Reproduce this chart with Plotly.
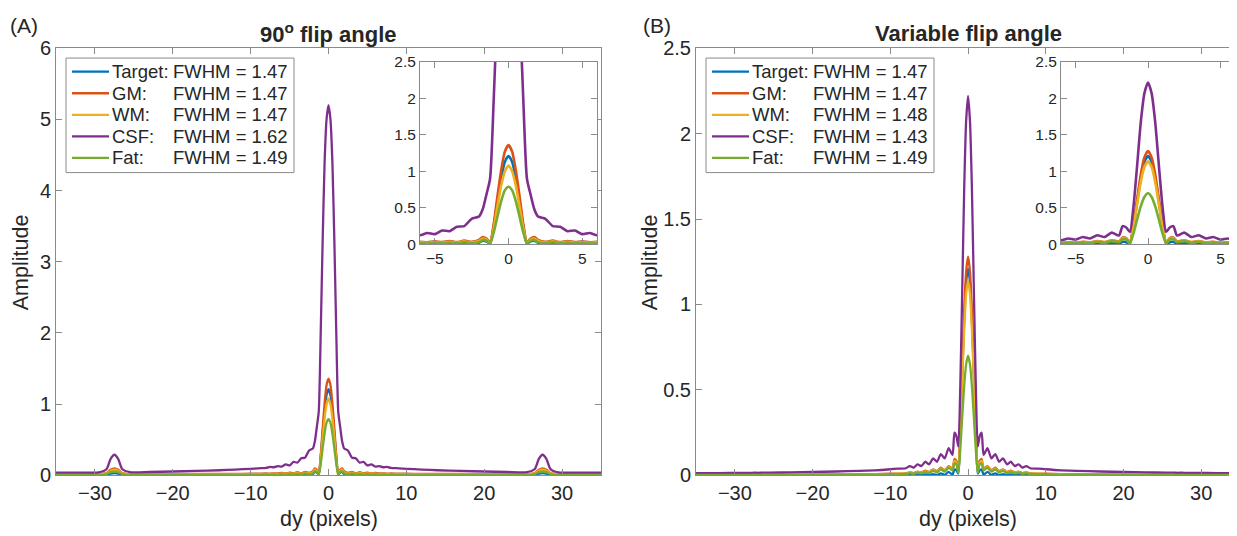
import plotly.graph_objects as go

# page geometry (measured from the rendered page)
OX = 8                 # horizontal offset of the figure in the page
TY, PH = 17.8, 516.0   # top and height of the paper area as it appears in the page
FW, FH = 1229, 536

# ---------------- data ----------------
dy = [-35, -32, -29.5, -28.5, -28, -27.5, -27, -26.5, -25.5, -23, -20, -17, -14, -12, -10, -9, -8,
      -7.5, -7, -6.5, -6, -5.5, -5, -4.5, -4, -3.5, -3, -2.5, -2, -1.75, -1.5, -1.25, -1, -0.75,
      -0.5, -0.25, 0, 0.25, 0.5, 0.75, 1, 1.25, 1.5, 1.75, 2, 2.5, 3, 3.5, 4, 4.5, 5, 5.5, 6,
      6.5, 7, 7.5, 8, 9, 10, 12, 14, 17, 20, 23, 25.5, 26.5, 27, 27.5, 28, 28.5, 29.5, 32, 35]

# (A) 90 degree flip angle
a_target = [0.002, 0.002, 0.002, 0.008, 0.025, 0.032, 0.025, 0.008, 0.002, 0.002, 0.002, 0.002, 0.003,
            0.003, 0.004, 0.004, 0.006, 0.003, 0.008, 0.003, 0.01, 0.003, 0.012, 0.004, 0.015, 0.005,
            0.02, 0.005, 0.02, 0.05, 0.04, 0.01, 0.25, 0.585, 0.90, 1.13,
            1.21,
            1.13, 0.90, 0.585, 0.25, 0.01, 0.04, 0.05, 0.02, 0.005, 0.02, 0.005, 0.015, 0.004, 0.012,
            0.003, 0.01, 0.003, 0.008, 0.003, 0.006, 0.004, 0.004, 0.003, 0.003, 0.002, 0.002, 0.002,
            0.002, 0.008, 0.025, 0.032, 0.025, 0.008, 0.002, 0.002, 0.002]
a_gm = [0.017, 0.017, 0.018, 0.035, 0.08, 0.10, 0.08, 0.035, 0.018, 0.018, 0.019, 0.02, 0.021, 0.022,
        0.024, 0.025, 0.027, 0.025, 0.03, 0.027, 0.035, 0.028, 0.04, 0.03, 0.045, 0.03, 0.05, 0.035,
        0.06, 0.10, 0.08, 0.03, 0.28, 0.66, 1.01, 1.27,
        1.36,
        1.27, 1.01, 0.66, 0.28, 0.03, 0.08, 0.10, 0.06, 0.035, 0.05, 0.03, 0.045, 0.03, 0.04, 0.028,
        0.035, 0.027, 0.03, 0.025, 0.027, 0.025, 0.024, 0.022, 0.021, 0.02, 0.019, 0.018, 0.018,
        0.035, 0.08, 0.10, 0.08, 0.035, 0.018, 0.017, 0.017]
a_wm = [0.012, 0.012, 0.013, 0.028, 0.065, 0.08, 0.065, 0.028, 0.013, 0.013, 0.013, 0.014, 0.015, 0.016,
        0.017, 0.018, 0.02, 0.018, 0.023, 0.019, 0.027, 0.02, 0.03, 0.022, 0.035, 0.022, 0.04, 0.025,
        0.045, 0.08, 0.065, 0.02, 0.22, 0.52, 0.80, 1.00,
        1.08,
        1.00, 0.80, 0.52, 0.22, 0.02, 0.065, 0.08, 0.045, 0.025, 0.04, 0.022, 0.035, 0.022, 0.03, 0.02,
        0.027, 0.019, 0.023, 0.018, 0.02, 0.018, 0.017, 0.016, 0.015, 0.014, 0.013, 0.013, 0.013,
        0.028, 0.065, 0.08, 0.065, 0.028, 0.013, 0.012, 0.012]
a_csf = [0.038, 0.04, 0.042, 0.09, 0.23, 0.29, 0.23, 0.09, 0.045, 0.048, 0.055, 0.063, 0.073, 0.082,
         0.093, 0.10, 0.105, 0.12, 0.115, 0.13, 0.125, 0.155, 0.14, 0.19, 0.18, 0.24, 0.25, 0.35, 0.38,
         0.48, 0.68, 0.90, 2.00, 3.30, 4.40, 5.00,
         5.20,
         5.00, 4.40, 3.30, 2.00, 0.90, 0.68, 0.48, 0.38, 0.35, 0.25, 0.24, 0.18, 0.19, 0.14, 0.155,
         0.125, 0.13, 0.115, 0.12, 0.105, 0.10, 0.093, 0.082, 0.073, 0.063, 0.055, 0.048, 0.045, 0.09,
         0.23, 0.29, 0.23, 0.09, 0.042, 0.04, 0.038]
a_fat = [0.008, 0.008, 0.008, 0.02, 0.045, 0.055, 0.045, 0.02, 0.008, 0.008, 0.008, 0.008, 0.009, 0.009,
         0.01, 0.011, 0.013, 0.01, 0.015, 0.01, 0.018, 0.011, 0.02, 0.012, 0.025, 0.013, 0.03, 0.015,
         0.03, 0.06, 0.05, 0.012, 0.165, 0.38, 0.59, 0.74,
         0.79,
         0.74, 0.59, 0.38, 0.165, 0.012, 0.05, 0.06, 0.03, 0.015, 0.03, 0.013, 0.025, 0.012, 0.02,
         0.011, 0.018, 0.01, 0.015, 0.01, 0.013, 0.011, 0.01, 0.009, 0.009, 0.008, 0.008, 0.008,
         0.008, 0.02, 0.045, 0.055, 0.045, 0.02, 0.008, 0.008, 0.008]

# (B) variable flip angle
b_target = [0.001, 0.001, 0.001, 0.001, 0.001, 0.001, 0.001, 0.001, 0.001, 0.001, 0.001, 0.001, 0.001,
            0.001, 0.001, 0.002, 0.001, 0.004, 0.001, 0.005, 0.001, 0.006, 0.002, 0.008, 0.002, 0.012,
            0.003, 0.02, 0.005, 0.035, 0.03, 0.01, 0.25, 0.585, 0.90, 1.13,
            1.21,
            1.13, 0.90, 0.585, 0.25, 0.01, 0.03, 0.035, 0.005, 0.02, 0.003, 0.012, 0.002, 0.008, 0.002,
            0.006, 0.001, 0.005, 0.001, 0.004, 0.001, 0.002, 0.001, 0.001, 0.001, 0.001, 0.001, 0.001,
            0.001, 0.001, 0.001, 0.001, 0.001, 0.001, 0.001, 0.001, 0.001]
b_gm = [0.005, 0.005, 0.005, 0.005, 0.005, 0.005, 0.005, 0.005, 0.005, 0.005, 0.005, 0.006, 0.007,
        0.008, 0.01, 0.011, 0.012, 0.018, 0.014, 0.022, 0.017, 0.028, 0.02, 0.035, 0.025, 0.045, 0.03,
        0.055, 0.04, 0.095, 0.085, 0.03, 0.27, 0.62, 0.955, 1.19,
        1.28,
        1.19, 0.955, 0.62, 0.27, 0.03, 0.085, 0.095, 0.04, 0.055, 0.03, 0.045, 0.025, 0.035, 0.02,
        0.028, 0.017, 0.022, 0.014, 0.018, 0.012, 0.011, 0.01, 0.008, 0.007, 0.006, 0.005, 0.005,
        0.005, 0.005, 0.005, 0.005, 0.005, 0.005, 0.005, 0.005, 0.005]
b_wm = [0.004, 0.004, 0.004, 0.004, 0.004, 0.004, 0.004, 0.004, 0.004, 0.004, 0.005, 0.005, 0.006,
        0.007, 0.009, 0.01, 0.011, 0.016, 0.012, 0.02, 0.015, 0.025, 0.018, 0.032, 0.022, 0.04, 0.027,
        0.05, 0.035, 0.085, 0.075, 0.025, 0.24, 0.55, 0.85, 1.06,
        1.14,
        1.06, 0.85, 0.55, 0.24, 0.025, 0.075, 0.085, 0.035, 0.05, 0.027, 0.04, 0.022, 0.032, 0.018,
        0.025, 0.015, 0.02, 0.012, 0.016, 0.011, 0.01, 0.009, 0.007, 0.006, 0.005, 0.005, 0.004,
        0.004, 0.004, 0.004, 0.004, 0.004, 0.004, 0.004, 0.004, 0.004]
b_csf = [0.014, 0.014, 0.015, 0.015, 0.015, 0.016, 0.015, 0.016, 0.016, 0.018, 0.02, 0.023, 0.027, 0.03,
         0.036, 0.04, 0.042, 0.055, 0.045, 0.065, 0.055, 0.08, 0.065, 0.10, 0.08, 0.125, 0.10, 0.16,
         0.12, 0.25, 0.23, 0.17, 0.52, 1.08, 1.67, 2.07,
         2.22,
         2.07, 1.67, 1.08, 0.52, 0.17, 0.23, 0.25, 0.12, 0.16, 0.10, 0.125, 0.08, 0.10, 0.065, 0.08,
         0.055, 0.065, 0.045, 0.055, 0.042, 0.04, 0.036, 0.03, 0.027, 0.023, 0.02, 0.018, 0.016,
         0.016, 0.015, 0.016, 0.015, 0.015, 0.015, 0.014, 0.014]
b_fat = [0.003, 0.003, 0.003, 0.003, 0.003, 0.003, 0.003, 0.003, 0.003, 0.003, 0.003, 0.004, 0.005,
         0.005, 0.007, 0.008, 0.009, 0.013, 0.01, 0.016, 0.012, 0.02, 0.014, 0.027, 0.018, 0.035, 0.022,
         0.045, 0.03, 0.07, 0.065, 0.015, 0.15, 0.34, 0.52, 0.65,
         0.70,
         0.65, 0.52, 0.34, 0.15, 0.015, 0.065, 0.07, 0.03, 0.045, 0.022, 0.035, 0.018, 0.027, 0.014,
         0.02, 0.012, 0.016, 0.01, 0.013, 0.009, 0.008, 0.007, 0.005, 0.005, 0.004, 0.003, 0.003,
         0.003, 0.003, 0.003, 0.003, 0.003, 0.003, 0.003, 0.003, 0.003]

names = ["Target:", "GM:", "WM:", "CSF:", "Fat:"]
fwhm_a = ["1.47", "1.47", "1.47", "1.62", "1.49"]
fwhm_b = ["1.47", "1.47", "1.48", "1.43", "1.49"]
colors = ["#0072BD", "#D95319", "#EDB120", "#7E2F8E", "#77AC30"]
main_xticks = [-30, -20, -10, 0, 10, 20, 30]
inset_xticks = [-5, 0, 5]

series_a = [a_target, a_gm, a_wm, a_csf, a_fat]
series_b = [b_target, b_gm, b_wm, b_csf, b_fat]

FONT = "Liberation Sans, Arial, Helvetica, sans-serif"
TXT = "#262626"
AX = "#8a8a8a"


def px(x):
    return (x - OX) / FW


def py(y):
    return 1 - (y - TY) / PH


fig = go.Figure()

for ser, xa, ya, lw in [(series_a, "x", "y", 2.3), (series_b, "x2", "y2", 2.3),
                        (series_a, "x3", "y3", 2.6), (series_b, "x4", "y4", 2.6)]:
    for vals, c in zip(ser, colors):
        fig.add_trace(go.Scatter(x=dy, y=vals, mode="lines", xaxis=xa, yaxis=ya,
                                 line=dict(color=c, width=lw, shape="spline", smoothing=0.6),
                                 showlegend=False, hoverinfo="skip"))


def axstyle(size, mirror="ticks"):
    return dict(showline=True, linecolor=AX, linewidth=1, mirror=mirror, ticks="inside",
                ticklen=6, tickcolor=AX, tickwidth=1, showgrid=False, zeroline=False,
                tickfont=dict(family=FONT, size=size, color=TXT))


lay = dict(
    width=FW, height=FH, margin=dict(l=0, r=0, t=0, b=0),
    paper_bgcolor="white", plot_bgcolor="white",
    xaxis=dict(domain=[px(56), px(601)], range=[-35, 35], tickvals=main_xticks, anchor="y", **axstyle(20)),
    yaxis=dict(domain=[py(476), py(47)], range=[0, 6], dtick=1, anchor="x", **axstyle(20)),
    xaxis2=dict(domain=[px(696), 1.0], range=[-35, 34.6], tickvals=main_xticks, anchor="y2", **axstyle(20)),
    yaxis2=dict(domain=[py(476), py(47)], range=[0, 2.5], dtick=0.5, anchor="x2", **axstyle(20, False)),
    xaxis3=dict(domain=[px(420), px(597)], range=[-6, 6], tickvals=inset_xticks, anchor="y3", **axstyle(15.5)),
    yaxis3=dict(domain=[py(244), py(61)], range=[0, 2.5], dtick=0.5, anchor="x3", **axstyle(15.5)),
    xaxis4=dict(domain=[px(1061), px(1235)], range=[-6, 6], tickvals=inset_xticks, anchor="y4", **axstyle(15.5)),
    yaxis4=dict(domain=[py(244), py(61)], range=[0, 2.5], dtick=0.5, anchor="x4", **axstyle(15.5)),
)
fig.update_layout(**lay)

ann = []
shapes = []


def text(x, y, s, size, xanchor="center", angle=0, bold=False):
    if bold:
        s = "<b>" + s + "</b>"
    ann.append(dict(x=px(x), y=py(y), xref="paper", yref="paper", text=s, showarrow=False,
                    xanchor=xanchor, yanchor="middle", textangle=angle,
                    font=dict(family=FONT, size=size, color=TXT)))


# panel labels and titles
text(8, 24, "(A)", 21, xanchor="left")
text(641, 24, "(B)", 21, xanchor="left")
text(328, 32, "90<sup>o</sup> flip angle", 22, bold=True)
text(968, 32, "Variable flip angle", 22, bold=True)
# axis titles
text(329, 520, "dy (pixels)", 21.5)
text(968, 520, "dy (pixels)", 21.5)
text(21, 262, "Amplitude", 21.5, angle=-90)
text(650, 262, "Amplitude", 21.5, angle=-90)

# legends drawn as boxes
for x0, fw in [(66, fwhm_a), (706, fwhm_b)]:
    shapes.append(dict(type="rect", xref="paper", yref="paper", x0=px(x0), x1=px(x0 + 228),
                       y0=py(172), y1=py(57), line=dict(color=AX, width=1), fillcolor="white",
                       layer="above"))
    for i, (nm, v, c) in enumerate(zip(names, fw, colors)):
        yy = 70.7 + i * 21.65
        shapes.append(dict(type="line", xref="paper", yref="paper", x0=px(x0 + 6), x1=px(x0 + 43),
                           y0=py(yy), y1=py(yy), line=dict(color=c, width=2.3), layer="above"))
        text(x0 + 44, yy, nm, 18.5, xanchor="left")
        text(x0 + 224, yy, "FWHM = " + v, 18.5, xanchor="right")

fig.update_layout(annotations=ann, shapes=shapes)
fig.write_html("out.html")
